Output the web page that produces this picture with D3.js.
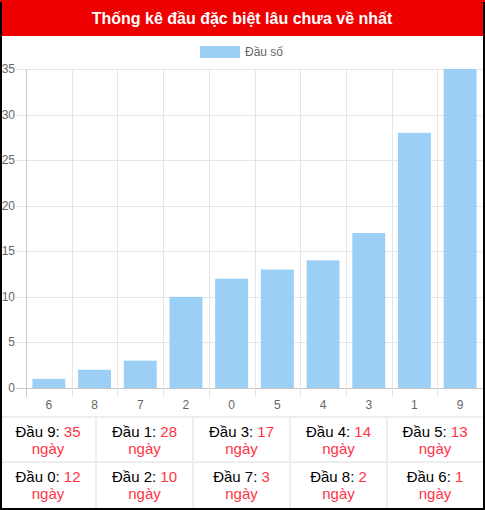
<!DOCTYPE html>
<html><head><meta charset="utf-8">
<script src="https://cdn.jsdelivr.net/npm/d3@7"></script>
<style>body{margin:0;background:#fff}svg{display:block;font-family:"Liberation Sans",Arial,sans-serif}</style>
</head><body>
<svg id="c" width="485" height="510"></svg>
<script>
const title = "Thống kê đầu đặc biệt lâu chưa về nhất";
const legendLabel = "Đầu số";
const categories = ["6","8","7","2","0","5","4","3","1","9"];
const values = [1,2,3,10,12,13,14,17,28,35];
const yTicks = [0,5,10,15,20,25,30,35];
const tableHeads = ["9","1","3","4","5","0","2","7","8","6"];
const tableDays = [35,28,17,14,13,12,10,3,2,1];
const unit = "ngày";

const svg = d3.select("#c");
svg.append("rect").attr("x",0).attr("y",0).attr("width",485).attr("height",510).attr("fill","#fff");
svg.append("rect").attr("x",0).attr("y",0).attr("width",485).attr("height",36).attr("fill","#ee0000");
svg.append("text").attr("x",242).attr("y",24).attr("text-anchor","middle").attr("fill","#fff")
  .attr("font-weight","bold").attr("font-size",16).text(title);

// legend
svg.append("rect").attr("x",200).attr("y",46).attr("width",40).attr("height",12).attr("fill","#9ccff5");
svg.append("text").attr("x",245).attr("y",56).attr("fill","#666").attr("font-size",12).text(legendLabel);

const x = d3.scaleBand().domain(categories).range([26,483]);
const y = d3.scaleLinear().domain([0,35]).range([388,69]);
const g = svg.append("g");
// horizontal grid
g.selectAll(".hg").data(yTicks).join("line")
  .attr("x1",16).attr("x2",483).attr("y1",d=>Math.round(y(d))+0.5).attr("y2",d=>Math.round(y(d))+0.5)
  .attr("stroke",d=>d===0?"#c8c8c8":"#e6e6e6");
// vertical grid
const bounds = categories.map(c=>x(c));
g.selectAll(".vg").data(bounds).join("line")
  .attr("x1",d=>Math.round(d)+0.5).attr("x2",d=>Math.round(d)+0.5).attr("y1",69).attr("y2",397)
  .attr("stroke",(d,i)=>i===0?"#c8c8c8":"#e6e6e6");
// y labels
g.selectAll(".yl").data(yTicks).join("text")
  .attr("x",15).attr("y",d=>y(d)+4).attr("text-anchor","end").attr("fill","#666").attr("font-size",12).text(d=>d);
// x labels
g.selectAll(".xl").data(categories).join("text")
  .attr("x",d=>x(d)+x.bandwidth()/2).attr("y",409).attr("text-anchor","middle").attr("fill","#666").attr("font-size",12).text(d=>d);
// bars
const bw = x.bandwidth()*0.72;
g.selectAll(".bar").data(categories).join("rect")
  .attr("x",(d)=>x(d)+(x.bandwidth()-bw)/2).attr("width",bw)
  .attr("y",(d,i)=>y(values[i])).attr("height",(d,i)=>y(0)-y(values[i]))
  .attr("fill","#9ccff5");

// table
const colX = [0,96,193,290,387,483];
const rowY = [417,462,508];
const tg = svg.append("g");
tg.selectAll(".hl").data(rowY.slice(0,2)).join("line").attr("x1",0).attr("x2",485)
  .attr("y1",d=>d).attr("y2",d=>d).attr("stroke","#eee").attr("stroke-width",2);
tg.selectAll(".vl").data(colX.slice(1,5)).join("line").attr("x1",d=>d).attr("x2",d=>d)
  .attr("y1",417).attr("y2",508).attr("stroke","#eee").attr("stroke-width",2);
tableHeads.forEach((h,i)=>{
  const r = Math.floor(i/5), c = i%5;
  const cx = (colX[c]+colX[c+1])/2;
  const by = rowY[r];
  const t = tg.append("text").attr("x",cx).attr("y",by+20).attr("text-anchor","middle").attr("font-size",15);
  t.append("tspan").attr("fill","#000").text("Đầu "+h+": ");
  t.append("tspan").attr("fill","#ff3347").text(tableDays[i]);
  tg.append("text").attr("x",cx).attr("y",by+37).attr("text-anchor","middle").attr("font-size",15)
    .attr("fill","#ff3347").text(unit);
});
// outer border
svg.append("rect").attr("x",1).attr("y",1).attr("width",483).attr("height",508)
  .attr("fill","none").attr("stroke","#000").attr("stroke-width",2);
svg.append("rect").attr("x",0).attr("y",0).attr("width",485).attr("height",2).attr("fill","#ee0000");
</script>
</body></html>
